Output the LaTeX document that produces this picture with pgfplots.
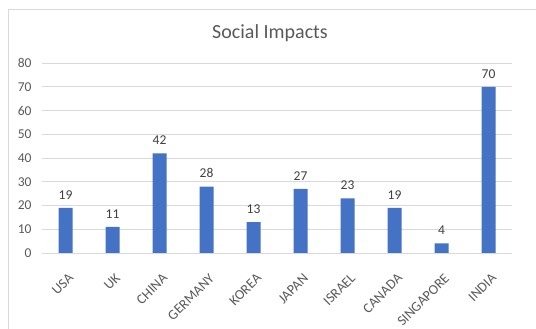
\documentclass[border=0pt]{standalone}
\usepackage{pgfplots}
\pgfplotsset{compat=1.18}
\usepackage{fontspec}
\setmainfont{Carlito}
\definecolor{barblue}{HTML}{4472C4}
\definecolor{gridgrey}{HTML}{D9D9D9}
\definecolor{labelgrey}{HTML}{595959}
\definecolor{valgrey}{HTML}{404040}
\begin{document}
\begin{tikzpicture}[x=1pt,y=1pt]
  % page extent and chart frame
  \useasboundingbox[fill=white] (0pt,0pt) rectangle (536pt,329pt);
  \draw[gridgrey, line width=0.8pt] (8pt,0pt) -- (8pt,320pt) -- (536pt,320pt);
  % title
  \node[labelgrey, font=\fontsize{20}{22}\selectfont] at (270pt,296pt) {Social Impacts};
  \begin{axis}[
    at={(42pt,76pt)}, anchor=south west,
    scale only axis, width=470pt, height=190pt,
    ybar, bar width=14pt,
    xmin=-0.5, xmax=9.5, ymin=0, ymax=80,
    ytick={0,10,...,80},
    xtick=data,
    xticklabels={USA,UK,CHINA,GERMANY,KOREA,JAPAN,ISRAEL,CANADA,SINGAPORE,INDIA},
    ymajorgrids, grid style={gridgrey, line width=0.8pt},
    axis line style={draw=none},
    major tick length=0pt,
    tick label style={labelgrey, font=\fontsize{13.5}{14}\selectfont},
    /pgf/number format/assume math mode=true,
    yticklabel style={xshift=-7pt},
    xticklabel style={rotate=45, anchor=north east, font=\fontsize{14}{15}\selectfont, xshift=-9pt, yshift=-12pt},
    nodes near coords,
    nodes near coords style={valgrey, font=\fontsize{13.5}{14}\selectfont, yshift=5pt},
    clip=false,
  ]
    \addplot[fill=barblue, draw=none] coordinates {
      (0,19) (1,11) (2,42) (3,28) (4,13) (5,27) (6,23) (7,19) (8,4) (9,70)
    };
  \end{axis}
\end{tikzpicture}
\end{document}
